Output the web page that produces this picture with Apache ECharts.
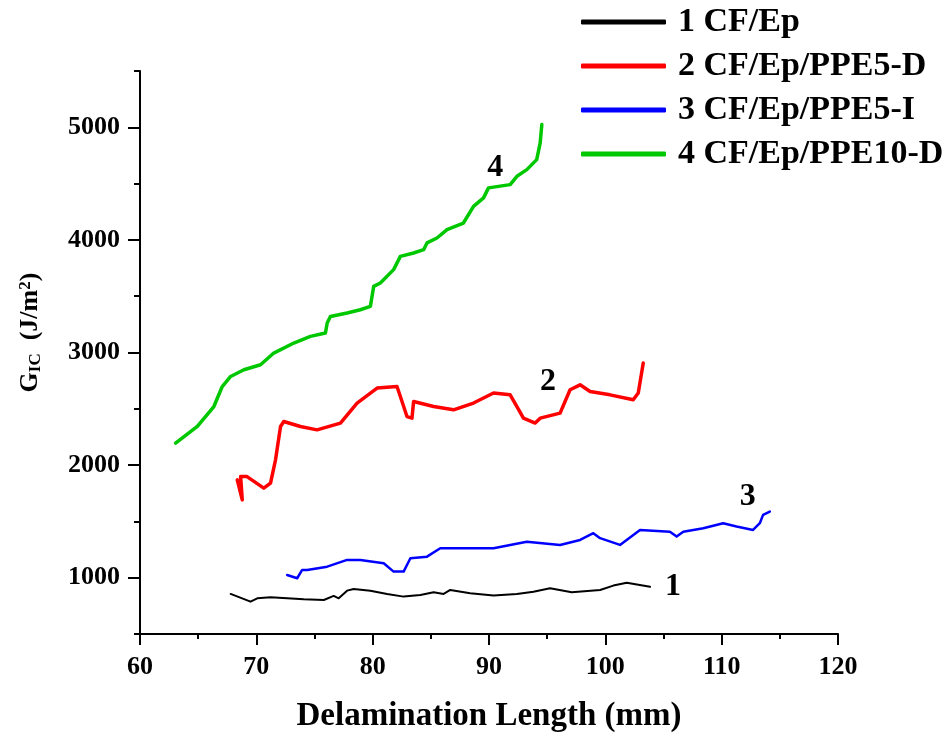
<!DOCTYPE html>
<html lang="en">
<head>
    <meta charset="UTF-8">
    <title>GIC vs delamination length</title>
    <script src="https://cdn.jsdelivr.net/npm/echarts@6/dist/echarts.min.js"></script>
    <style>
        html, body { margin: 0; padding: 0; background: #fff; }
    </style>
</head>
<body>
<div id="main" style="width:947px;height:738px"></div>
<script type="text/javascript">
    // series names (legend)
    var names = ['1 CF/Ep', '2 CF/Ep/PPE5-D', '3 CF/Ep/PPE5-I', '4 CF/Ep/PPE10-D'];
    var colors = ['#000000', '#ff0000', '#0000ff', '#00c800'];

    // [delamination length (mm), GIC (J/m2)]
    var cfEp = [
        [67.79, 856], [69.5, 787], [70.08, 817], [71.22, 826], [74.08, 808], [75.8, 802],
        [76.65, 838], [77.08, 817], [77.8, 885], [78.37, 900], [79.8, 885], [81.24, 856],
        [82.66, 832], [84.1, 847], [85.24, 871], [86.1, 856], [86.67, 891], [88.38, 862],
        [90.39, 841], [92.39, 856], [93.82, 876], [95.25, 906], [97.11, 871], [99.55, 891],
        [100.69, 930], [101.84, 956], [103.84, 920]
    ];
    var ppe5D = [
        [68.36, 1869], [68.79, 1691], [68.65, 1898], [69.2, 1898], [70.64, 1795], [71.22, 1840],
        [71.65, 2047], [72.08, 2343], [72.36, 2387], [73.79, 2343], [75.22, 2313], [77.23, 2373],
        [78.66, 2551], [80.38, 2684], [82.09, 2698], [82.38, 2609], [82.95, 2431], [83.38, 2417],
        [83.52, 2565], [85.24, 2520], [86.95, 2491], [88.67, 2551], [90.39, 2640], [91.82, 2624],
        [92.4, 2520], [92.96, 2417], [93.97, 2373], [94.4, 2417], [96.11, 2462], [96.97, 2669],
        [97.83, 2713], [98.69, 2654], [100.4, 2624], [102.4, 2580], [102.83, 2640], [103.26, 2906]
    ];
    var ppe5I = [
        [72.65, 1024], [73.51, 995], [73.94, 1069], [74.37, 1069], [76.09, 1098], [77.8, 1158],
        [78.94, 1158], [80.95, 1128], [81.8, 1054], [82.66, 1054], [83.24, 1173], [84.67, 1187],
        [85.81, 1262], [87.53, 1262], [90.39, 1262], [93.25, 1320], [96.11, 1291], [97.83, 1335],
        [98.97, 1395], [99.55, 1351], [101.26, 1291], [102.98, 1424], [105.55, 1409], [106.13, 1365],
        [106.7, 1409], [108.42, 1439], [110.13, 1484], [111.28, 1454], [112.7, 1424], [113.28, 1484],
        [113.56, 1558], [114.14, 1587]
    ];
    var ppe10D = [
        [63.06, 2195], [64.93, 2343], [66.35, 2520], [67.07, 2698], [67.79, 2787], [68.93, 2847],
        [70.36, 2891], [71.5, 2995], [73.22, 3084], [74.65, 3143], [75.94, 3173], [76.09, 3262],
        [76.37, 3320], [77.8, 3351], [78.94, 3380], [79.8, 3409], [80.09, 3587], [80.66, 3617],
        [81.8, 3736], [82.38, 3854], [83.52, 3884], [84.38, 3913], [84.67, 3973], [85.53, 4017],
        [86.39, 4091], [87.8, 4150], [88.67, 4298], [89.53, 4373], [89.96, 4462], [91.82, 4491],
        [92.4, 4565], [93.25, 4624], [94.1, 4713], [94.4, 4862], [94.54, 5024]
    ];
    // curve number labels [x, y, text]
    var curveTags = [[105.81, 920, '1'], [95.08, 2743, '2'], [112.25, 1718, '3'], [90.53, 4640, '4']];

    var yMajor = [1000, 2000, 3000, 4000, 5000];
    var yMinor = [500, 1500, 2500, 3500, 4500, 5500];

    var font = "'Liberation Serif', 'Times New Roman', serif";
    var myChart = echarts.init(document.getElementById('main'));

    function lineSeries(i, data, w) {
        return {
            name: names[i],
            type: 'line',
            data: data,
            showSymbol: false,
            symbol: 'none',
            smooth: false,
            lineStyle: { color: colors[i], width: w, join: 'round', cap: 'round' },
            itemStyle: { color: colors[i] },
            z: 3
        };
    }

    myChart.setOption({
        backgroundColor: '#fff',
        animation: false,
        grid: { left: 140, right: 109, top: 71, bottom: 104 },
        legend: {
            data: names,
            orient: 'vertical',
            left: 576,
            top: 0,
            icon: 'roundRect',
            itemWidth: 85,
            itemHeight: 5,
            itemGap: 10,
            textStyle: {
                fontFamily: font, fontWeight: 'bold', fontSize: 34, color: '#000',
                lineHeight: 34, padding: [0, 0, 0, 7]
            }
        },
        xAxis: {
            type: 'value',
            min: 60,
            max: 120,
            interval: 10,
            name: 'Delamination Length (mm)',
            nameLocation: 'middle',
            nameGap: 66,
            nameTextStyle: { fontFamily: font, fontWeight: 'bold', fontSize: 33, color: '#000' },
            axisLine: { show: true, lineStyle: { color: '#000', width: 2 } },
            axisTick: { show: true, inside: false, length: 11, lineStyle: { color: '#000', width: 2 } },
            minorTick: { show: true, splitNumber: 2, length: 5, lineStyle: { color: '#000', width: 2 } },
            axisLabel: { fontFamily: font, fontWeight: 'bold', fontSize: 26, color: '#000', margin: 20 },
            splitLine: { show: false }
        },
        yAxis: [{
            type: 'value',
            min: 500,
            max: 5500,
            name: 'G{sub|IC}  (J/m{sup|2})',
            nameLocation: 'middle',
            nameGap: 96,
            nameTextStyle: {
                fontFamily: font, fontWeight: 'bold', fontSize: 26, color: '#000',
                padding: [0, 0, 0, 40],
                rich: {
                    sub: { fontFamily: font, fontWeight: 'bold', fontSize: 17, color: '#000', verticalAlign: 'bottom', padding: [10, 0, 0, 0] },
                    sup: { fontFamily: font, fontWeight: 'bold', fontSize: 17, color: '#000', verticalAlign: 'top', padding: [0, 0, 10, 0] }
                }
            },
            axisLine: { show: true, lineStyle: { color: '#000', width: 2 } },
            axisTick: { show: true, length: 12, customValues: yMajor, lineStyle: { color: '#000', width: 2 } },
            axisLabel: {
                customValues: yMajor,
                formatter: function (v) { return String(v); },
                fontFamily: font, fontWeight: 'bold', fontSize: 26, color: '#000', margin: 20
            },
            splitLine: { show: false }
        }, {
            type: 'value',
            min: 500,
            max: 5500,
            position: 'left',
            axisLine: { show: false },
            axisTick: { show: true, length: 6, customValues: yMinor, lineStyle: { color: '#000', width: 2 } },
            axisLabel: { show: false },
            splitLine: { show: false }
        }],
        series: [
            lineSeries(0, cfEp, 2),
            lineSeries(1, ppe5D, 3.5),
            lineSeries(2, ppe5I, 2.5),
            lineSeries(3, ppe10D, 3.5),
            {
                name: 'tags',
                type: 'scatter',
                data: curveTags,
                symbolSize: 0,
                itemStyle: { opacity: 1, color: '#000' },
                label: {
                    show: true,
                    position: 'inside',
                    formatter: function (p) { return p.value[2]; },
                    fontFamily: font, fontWeight: 'bold', fontSize: 32, color: '#000'
                },
                z: 4
            }
        ]
    });
</script>
</body>
</html>
